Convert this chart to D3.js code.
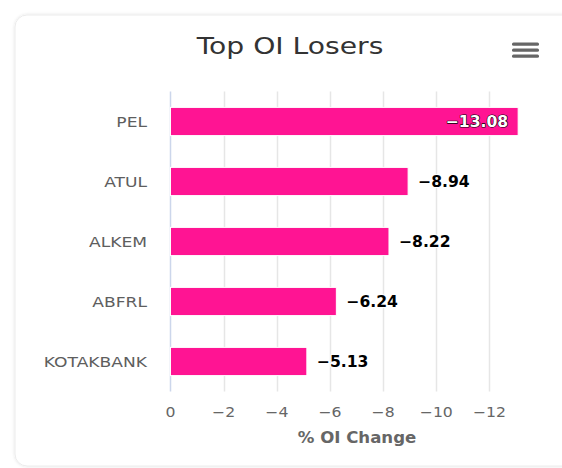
<!DOCTYPE html>
<html><head><meta charset="utf-8">
<script src="https://cdn.jsdelivr.net/npm/d3@7"></script>
<style>
html,body{margin:0;padding:0;background:#fff;}
svg{display:block;font-family:"DejaVu Sans",Verdana,sans-serif;}
</style></head>
<body><svg id="c" width="562" height="468"></svg>
<script>
const categories = ["PEL","ATUL","ALKEM","ABFRL","KOTAKBANK"];
const values = [-13.08,-8.94,-8.22,-6.24,-5.13];
const tickValues = [0,-2,-4,-6,-8,-10,-12];
const chartTitle = "Top OI Losers";
const axisTitle = "% OI Change";

const svg = d3.select("#c");
const defs = svg.append("defs");
const f = defs.append("filter").attr("id","sh").attr("x","-5%").attr("y","-5%").attr("width","110%").attr("height","110%");
f.append("feDropShadow").attr("dx",0).attr("dy",0).attr("stdDeviation",1.5).attr("flood-color","#000").attr("flood-opacity",0.12);

// card
svg.append("rect").attr("x",15).attr("y",15).attr("width",560).attr("height",451)
  .attr("rx",12).attr("fill","#fff").attr("stroke","#ececec").attr("filter","url(#sh)");

const plotTop = 91.5, plotBottom = 391.5;
const x = d3.scaleLinear().domain([0,-14]).range([170.5,542.6]);
const y = d3.scaleBand().domain(categories).range([plotTop,plotBottom]).paddingInner(0.53).paddingOuter(0.265);

const tr = (px,py,sx)=>`translate(${px},${py}) scale(${sx},1)`;

// title
svg.append("text").attr("transform",tr(290,54,1.2)).attr("text-anchor","middle")
  .attr("font-size",23.5).attr("fill","#333").text(chartTitle);

// menu icon
[44,50,56].forEach(yy=>{
  svg.append("rect").attr("x",512).attr("y",yy-1.5).attr("width",27).attr("height",3.2).attr("rx",1.5).attr("fill","#666");
});

// gridlines
svg.append("g").selectAll("line").data(tickValues.slice(1)).join("line")
  .attr("x1",d=>Math.round(x(d))+0.5).attr("x2",d=>Math.round(x(d))+0.5)
  .attr("y1",plotTop).attr("y2",plotBottom).attr("stroke","#e6e6e6").attr("stroke-width",1.5);
// axis line
svg.append("line").attr("x1",x(0)).attr("x2",x(0)).attr("y1",plotTop).attr("y2",plotBottom)
  .attr("stroke","#ccd6eb").attr("stroke-width",1.5);

// bottom axis labels
const fmt = d3.format("d");
svg.append("g").selectAll("text").data(tickValues).join("text")
  .attr("transform",d=>tr(x(d),417,1.12)).attr("text-anchor","middle")
  .attr("font-size",14).attr("fill","#666").text(d=>fmt(d));

svg.append("text").attr("transform",tr(357,443,1.07)).attr("text-anchor","middle")
  .attr("font-size",15.5).attr("font-weight","bold").attr("fill","#666").text(axisTitle);

// category labels
svg.append("g").selectAll("text").data(categories).join("text")
  .attr("transform",d=>tr(147,y(d)+y.bandwidth()/2,1.18)).attr("dy","0.36em")
  .attr("text-anchor","end").attr("font-size",14.5).attr("fill","#5e5e5e").text(d=>d);

// bars
const data = categories.map((c,i)=>({c,v:values[i]}));
svg.append("g").selectAll("rect").data(data).join("rect")
  .attr("x",x(0)).attr("y",d=>y(d.c)).attr("width",d=>x(d.v)-x(0)).attr("height",y.bandwidth())
  .attr("fill","#ff1493").attr("stroke","#fff").attr("stroke-width",1);

// data labels
const lf = d3.format(".2f");
const inside = d=>x(d.v)>500;
svg.append("g").selectAll("text").data(data).join("text")
  .attr("transform",d=>tr(inside(d)? x(d.v)-10 : x(d.v)+10, y(d.c)+y.bandwidth()/2, 1.04))
  .attr("dy","0.36em")
  .attr("text-anchor",d=>inside(d)?"end":"start")
  .attr("font-size",15).attr("font-weight","bold")
  .attr("fill",d=>inside(d)?"#fff":"#000")
  .attr("stroke",d=>inside(d)?"#000":"#fff").attr("stroke-width",d=>inside(d)?1.2:2)
  .attr("paint-order","stroke").attr("stroke-linejoin","round")
  .text(d=>lf(d.v));
</script></body></html>
